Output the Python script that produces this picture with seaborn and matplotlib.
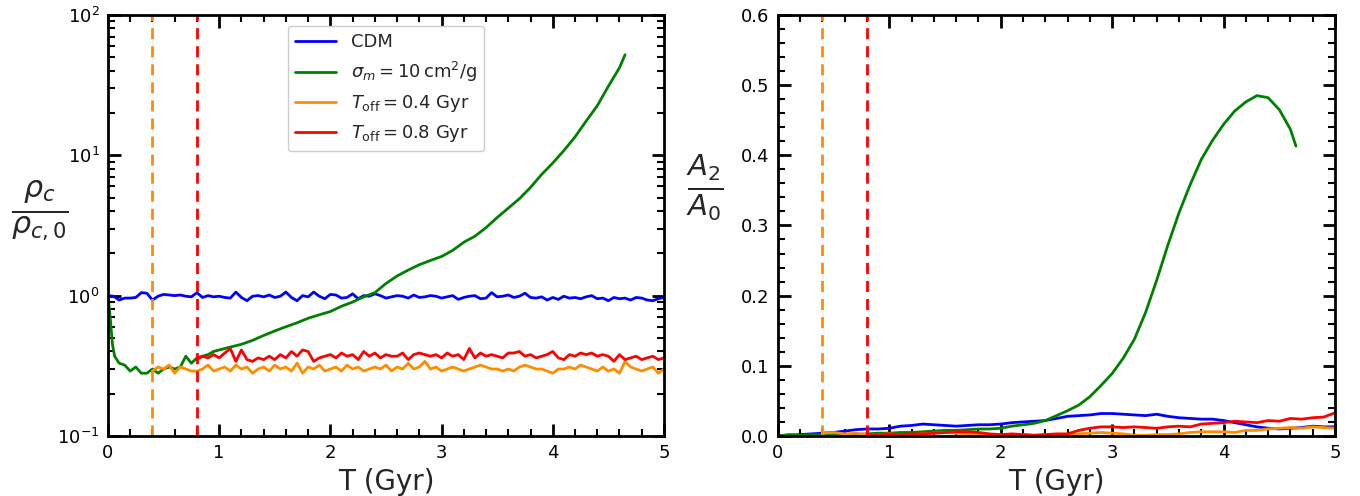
import numpy as np
import pandas as pd
import matplotlib
matplotlib.use("Agg")
import matplotlib.pyplot as plt
from matplotlib.ticker import MultipleLocator, LogLocator, NullFormatter
import seaborn as sns

# ---- central density ratio rho_c / rho_c,0 ----
t_cdm = np.round(np.arange(0.0, 5.0001, 0.05), 2)
rho_cdm = [1.00, 0.99, 0.93, 0.96, 0.96, 0.97, 1.05, 1.04, 0.93, 0.99,
           1.02, 1.01, 1.00, 1.01, 0.99, 0.98, 1.05, 0.97, 1.00, 0.98,
           0.99, 0.97, 0.96, 1.06, 0.97, 0.92, 0.99, 1.00, 0.98, 1.01,
           0.97, 0.99, 1.06, 0.97, 0.92, 1.00, 0.98, 1.06, 0.99, 0.95,
           1.02, 1.01, 0.96, 0.97, 1.03, 0.95, 1.00, 0.99, 1.03, 1.00,
           0.96, 0.98, 1.00, 0.99, 0.96, 1.01, 0.97, 0.98, 1.00, 0.99,
           0.96, 0.98, 1.00, 0.94, 0.97, 0.99, 1.00, 0.95, 0.96, 1.05,
           0.98, 0.99, 1.01, 0.97, 0.99, 1.04, 0.97, 0.96, 0.98, 0.93,
           0.97, 0.94, 0.99, 0.96, 0.97, 0.95, 0.98, 1.00, 0.95, 0.96,
           0.92, 0.97, 0.95, 0.96, 0.93, 0.97, 0.96, 0.93, 0.92, 0.95,
           0.97]

t_sidm = [0.00, 0.02, 0.04, 0.06, 0.10, 0.15, 0.20, 0.25, 0.30, 0.35,
          0.40, 0.45, 0.50, 0.55, 0.60, 0.65, 0.70, 0.75, 0.80, 0.85,
          0.90, 0.95, 1.00, 1.10, 1.20, 1.30, 1.40, 1.50, 1.60, 1.70,
          1.80, 1.90, 2.00, 2.10, 2.20, 2.30, 2.40, 2.50, 2.60, 2.70,
          2.80, 2.90, 3.00, 3.10, 3.20, 3.30, 3.40, 3.50, 3.60, 3.70,
          3.80, 3.90, 4.00, 4.10, 4.20, 4.30, 4.40, 4.50, 4.60, 4.65]
rho_sidm = [1.00, 0.70, 0.45, 0.37, 0.33, 0.32, 0.29, 0.31, 0.28, 0.28,
            0.30, 0.28, 0.30, 0.31, 0.30, 0.31, 0.37, 0.33, 0.36, 0.37,
            0.38, 0.40, 0.41, 0.43, 0.45, 0.48, 0.52, 0.56, 0.60, 0.64,
            0.69, 0.73, 0.77, 0.84, 0.90, 0.98, 1.05, 1.22, 1.38, 1.52,
            1.66, 1.78, 1.90, 2.10, 2.40, 2.65, 3.05, 3.60, 4.20, 4.90,
            5.90, 7.30, 8.80, 10.8, 13.5, 17.5, 22.5, 31.0, 42.0, 52.0]

t_off04 = np.round(np.arange(0.4, 5.0001, 0.05), 2)
rho_off04 = [0.29, 0.31, 0.30, 0.32, 0.28, 0.31, 0.30, 0.29, 0.29, 0.30,
             0.32, 0.29, 0.30, 0.31, 0.29, 0.32, 0.30, 0.31, 0.28, 0.30,
             0.31, 0.29, 0.32, 0.30, 0.31, 0.29, 0.33, 0.28, 0.31, 0.30,
             0.32, 0.29, 0.30, 0.31, 0.29, 0.32, 0.30, 0.31, 0.29, 0.30,
             0.31, 0.30, 0.32, 0.29, 0.31, 0.30, 0.33, 0.30, 0.31, 0.34,
             0.30, 0.31, 0.29, 0.30, 0.31, 0.30, 0.29, 0.30, 0.31, 0.32,
             0.31, 0.30, 0.30, 0.29, 0.30, 0.29, 0.31, 0.32, 0.31, 0.30,
             0.30, 0.29, 0.28, 0.30, 0.30, 0.31, 0.30, 0.32, 0.31, 0.30,
             0.29, 0.31, 0.29, 0.30, 0.28, 0.34, 0.31, 0.30, 0.29, 0.30,
             0.31, 0.28, 0.30]

t_off08 = np.round(np.arange(0.8, 5.0001, 0.05), 2)
rho_off08 = [0.35, 0.37, 0.36, 0.38, 0.36, 0.39, 0.42, 0.34, 0.41, 0.35,
             0.34, 0.36, 0.35, 0.37, 0.35, 0.38, 0.36, 0.40, 0.37, 0.41,
             0.40, 0.34, 0.36, 0.37, 0.38, 0.36, 0.39, 0.37, 0.38, 0.35,
             0.40, 0.37, 0.39, 0.36, 0.38, 0.37, 0.37, 0.39, 0.35, 0.38,
             0.39, 0.38, 0.37, 0.38, 0.36, 0.39, 0.37, 0.38, 0.35, 0.42,
             0.36, 0.39, 0.37, 0.38, 0.37, 0.36, 0.39, 0.39, 0.40, 0.37,
             0.38, 0.36, 0.37, 0.38, 0.40, 0.36, 0.35, 0.38, 0.37, 0.39,
             0.38, 0.39, 0.37, 0.38, 0.37, 0.34, 0.38, 0.35, 0.36, 0.37,
             0.35, 0.36, 0.37, 0.35, 0.36]

# ---- bar strength A2 / A0 ----
t_a2 = np.round(np.arange(0.0, 5.0001, 0.1), 1)
a2_cdm = [0.000, 0.001, 0.002, 0.003, 0.004, 0.005, 0.007, 0.009, 0.010, 0.010,
          0.011, 0.014, 0.015, 0.017, 0.016, 0.015, 0.014, 0.015, 0.016, 0.016,
          0.017, 0.019, 0.020, 0.021, 0.022, 0.025, 0.028, 0.029, 0.030, 0.032,
          0.032, 0.031, 0.030, 0.029, 0.031, 0.028, 0.026, 0.025, 0.024, 0.024,
          0.022, 0.019, 0.016, 0.013, 0.011, 0.010, 0.011, 0.012, 0.014, 0.013,
          0.013]

t_a2_sidm = [0.0, 0.1, 0.2, 0.3, 0.4, 0.5, 0.6, 0.7, 0.8, 0.9,
             1.0, 1.1, 1.2, 1.3, 1.4, 1.5, 1.6, 1.7, 1.8, 1.9,
             2.0, 2.1, 2.2, 2.3, 2.4, 2.5, 2.6, 2.7, 2.8, 2.9,
             3.0, 3.1, 3.2, 3.3, 3.4, 3.5, 3.6, 3.7, 3.8, 3.9,
             4.0, 4.1, 4.2, 4.3, 4.4, 4.5, 4.6, 4.65]
a2_sidm = [0.000, 0.002, 0.001, 0.002, 0.002, 0.003, 0.002, 0.002, 0.003, 0.004,
           0.004, 0.005, 0.005, 0.006, 0.007, 0.008, 0.008, 0.009, 0.010, 0.010,
           0.011, 0.014, 0.016, 0.018, 0.022, 0.029, 0.036, 0.044, 0.056, 0.072,
           0.089, 0.111, 0.138, 0.176, 0.222, 0.272, 0.318, 0.358, 0.394, 0.421,
           0.444, 0.463, 0.476, 0.485, 0.482, 0.465, 0.437, 0.413]

t_a2_off04 = np.round(np.arange(0.4, 5.0001, 0.1), 1)
a2_off04 = [0.004, 0.005, 0.003, 0.004, 0.002, 0.002, 0.003, 0.002, 0.002, 0.003,
            0.004, 0.005, 0.004, 0.003, 0.003, 0.002, 0.001, 0.001, 0.002, 0.001,
            0.002, 0.002, 0.002, 0.003, 0.004, 0.005, 0.004, 0.003, 0.001, 0.001,
            0.002, 0.002, 0.003, 0.005, 0.006, 0.006, 0.006, 0.005, 0.008, 0.008,
            0.010, 0.011, 0.012, 0.011, 0.013, 0.012, 0.011]

t_a2_off08 = np.round(np.arange(0.8, 5.0001, 0.1), 1)
a2_off08 = [0.002, 0.002, 0.003, 0.002, 0.003, 0.003, 0.004, 0.005, 0.006, 0.006,
            0.005, 0.003, 0.002, 0.003, 0.002, 0.001, 0.002, 0.003, 0.003, 0.008,
            0.011, 0.013, 0.013, 0.012, 0.013, 0.012, 0.011, 0.013, 0.014, 0.013,
            0.017, 0.018, 0.019, 0.021, 0.020, 0.019, 0.022, 0.021, 0.025, 0.024,
            0.026, 0.027, 0.033]

labels = ["CDM", r"$\sigma_m = 10\,\mathrm{cm^2/g}$",
          r"$T_{\rm off} = 0.4$ Gyr", r"$T_{\rm off} = 0.8$ Gyr"]
colors = ["#0000ff", "#008000", "#ff8c00", "#ff0000"]
t_offs = [0.4, 0.8]

sns.set_style("ticks")
plt.rcParams.update({
    "font.family": ["DejaVu Sans"],
    "axes.linewidth": 2.0,
    "xtick.direction": "in", "ytick.direction": "in",
    "xtick.top": True, "ytick.right": True,
    "xtick.major.size": 9, "ytick.major.size": 9,
    "xtick.major.width": 2.0, "ytick.major.width": 2.0,
    "xtick.minor.size": 5, "ytick.minor.size": 5,
    "xtick.minor.width": 1.5, "ytick.minor.width": 1.5,
    "xtick.labelsize": 13, "ytick.labelsize": 13,
    "xtick.major.pad": 6, "ytick.major.pad": 6,
    "axes.edgecolor": "black",
    "xtick.color": "black", "ytick.color": "black",
})

fig = plt.figure(figsize=(13.6, 4.96), dpi=100)
ax1 = fig.add_axes([0.0794, 0.121, 0.4088, 0.849])
ax2 = fig.add_axes([0.572, 0.121, 0.4096, 0.849])

left_series = [(t_cdm, rho_cdm), (t_sidm, rho_sidm),
               (t_off04, rho_off04), (t_off08, rho_off08)]
right_series = [(t_a2, a2_cdm), (t_a2_sidm, a2_sidm),
                (t_a2_off04, a2_off04), (t_a2_off08, a2_off08)]

for (tt, vv), lab, col in zip(left_series, labels, colors):
    df = pd.DataFrame({"T": tt, "v": vv})
    sns.lineplot(data=df, x="T", y="v", ax=ax1, color=col, lw=2, label=lab)
for (tt, vv), col in zip(right_series, colors):
    df = pd.DataFrame({"T": tt, "v": vv})
    sns.lineplot(data=df, x="T", y="v", ax=ax2, color=col, lw=2)

for ax in (ax1, ax2):
    for toff, col in zip(t_offs, colors[2:]):
        ax.axvline(toff, color=col, ls="--", lw=2, dashes=(4, 2.5))
    ax.set_xlim(0, 5)
    ax.xaxis.set_major_locator(MultipleLocator(1))
    ax.xaxis.set_minor_locator(MultipleLocator(0.2))
    ax.set_xlabel("T (Gyr)", fontsize=20)
    ax.tick_params(which="both", top=True, right=True, direction="in")

ax1.set_yscale("log")
ax1.set_ylim(0.1, 100)
ax1.yaxis.set_major_locator(LogLocator(base=10, numticks=10))
ax1.yaxis.set_minor_locator(LogLocator(base=10, subs=np.arange(2, 10), numticks=10))
ax1.yaxis.set_minor_formatter(NullFormatter())
ax1.set_ylabel(r"$\frac{\rho_c}{\rho_{c,0}}$", fontsize=31, rotation=0,
               va="center", ha="center")
ax1.yaxis.set_label_coords(-0.122, 0.535)

ax2.set_ylim(0, 0.6)
ax2.yaxis.set_major_locator(MultipleLocator(0.1))
ax2.yaxis.set_minor_locator(MultipleLocator(0.02))
ax2.set_ylabel(r"$\frac{A_2}{A_0}$", fontsize=30, rotation=0,
               va="center", ha="center")
ax2.yaxis.set_label_coords(-0.131, 0.59)

leg = ax1.legend(loc="upper center", fontsize=13, handlelength=2.3,
                 borderaxespad=0.6, framealpha=1.0)

fig.savefig("out.png", dpi=100)
